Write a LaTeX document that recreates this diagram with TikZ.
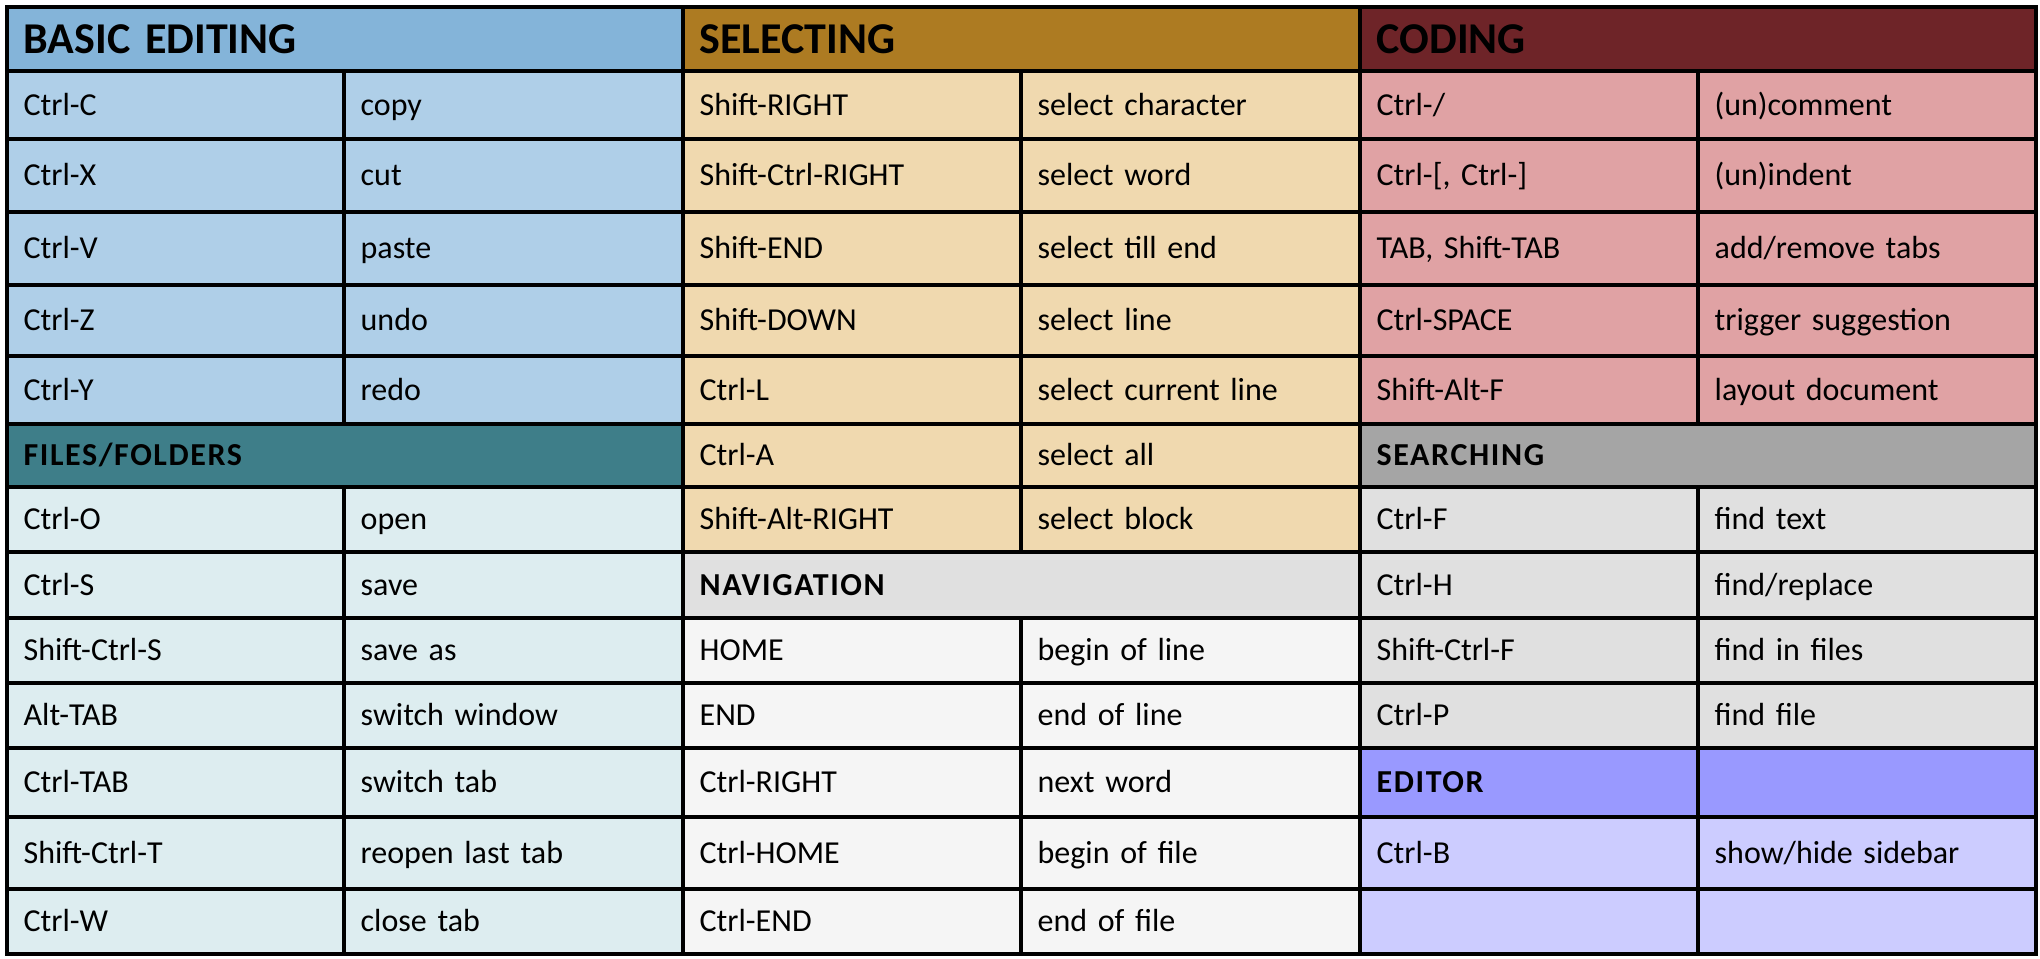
\documentclass[tikz,border=0pt]{standalone}
\usepackage{fontspec}
\setmainfont{Carlito}
\newfontfamily\subfont[LetterSpace=5]{Carlito}
\definecolor{basichead}{HTML}{84B4D9}
\definecolor{basicbody}{HTML}{AFCFE8}
\definecolor{selhead}{HTML}{AD7B22}
\definecolor{selbody}{HTML}{F0D9AF}
\definecolor{codehead}{HTML}{6E2428}
\definecolor{codebody}{HTML}{E0A2A4}
\definecolor{filehead}{HTML}{3E7E89}
\definecolor{filebody}{HTML}{DDEDF0}
\definecolor{navhead}{HTML}{E0E0E0}
\definecolor{navbody}{HTML}{F5F5F5}
\definecolor{srchhead}{HTML}{A5A5A5}
\definecolor{srchbody}{HTML}{E0E0E0}
\definecolor{edhead}{HTML}{9999FF}
\definecolor{edbody}{HTML}{CCCCFF}
\tikzset{
  cell/.style={draw=black,line width=3pt,anchor=north west,inner xsep=12.5pt,inner ysep=0pt,
    align=left,text height=15.5pt,text depth=0pt,font=\fontsize{24}{28}\selectfont},
  bighead/.style={cell,text height=21.3pt,font=\fontsize{33}{38}\selectfont\bfseries},
  subhead/.style={cell,font=\subfont\fontsize{24}{28}\selectfont\bfseries},
}
% one cell: name, column, span, row, style, text
\newcommand{\kcell}[6]{%
  \pgfmathsetmacro{\xa}{{5,342,681,1019,1358,1696,2034}[#2]}%
  \pgfmathsetmacro{\xb}{{5,342,681,1019,1358,1696,2034}[#2+#3]}%
  \pgfmathsetmacro{\ya}{{5,69,137,210,283,354,422,485,550,616,681,746,815,887,952}[#4]}%
  \pgfmathsetmacro{\yb}{{5,69,137,210,283,354,422,485,550,616,681,746,815,887,952}[#4+1]}%
  \pgfmathsetmacro{\cw}{(\xb-\xa)*0.75}%
  \pgfmathsetmacro{\ch}{(\yb-\ya)*0.75}%
  \pgfmathsetmacro{\tw}{\cw-25}%
  \node[#5,minimum width=\cw pt,minimum height=\ch pt,text width=\tw pt] (#1) at (\xa,\ya) {#6};}
% key and meaning: name, column, row, fill, key, meaning
\newcommand{\krow}[6]{%
  \kcell{#1-k}{#2}{1}{#3}{cell,fill=#4}{#5}%
  \kcell{#1-d}{#2+1}{1}{#3}{cell,fill=#4}{#6}}
\begin{document}
\begin{tikzpicture}[x=0.75pt,y=-0.75pt]
\useasboundingbox (0,0) rectangle (2040,958);
% basic editing
\kcell{basic}{0}{2}{0}{bighead,fill=basichead}{BASIC EDITING}
\krow{be1}{0}{1}{basicbody}{Ctrl-C}{copy}
\krow{be2}{0}{2}{basicbody}{Ctrl-X}{cut}
\krow{be3}{0}{3}{basicbody}{Ctrl-V}{paste}
\krow{be4}{0}{4}{basicbody}{Ctrl-Z}{undo}
\krow{be5}{0}{5}{basicbody}{Ctrl-Y}{redo}
% files/folders
\kcell{files}{0}{2}{6}{subhead,fill=filehead}{FILES/FOLDERS}
\krow{ff1}{0}{7}{filebody}{Ctrl-O}{open}
\krow{ff2}{0}{8}{filebody}{Ctrl-S}{save}
\krow{ff3}{0}{9}{filebody}{Shift-Ctrl-S}{save as}
\krow{ff4}{0}{10}{filebody}{Alt-TAB}{switch window}
\krow{ff5}{0}{11}{filebody}{Ctrl-TAB}{switch tab}
\krow{ff6}{0}{12}{filebody}{Shift-Ctrl-T}{reopen last tab}
\krow{ff7}{0}{13}{filebody}{Ctrl-W}{close tab}
% selecting
\kcell{select}{2}{2}{0}{bighead,fill=selhead}{SELECTING}
\krow{se1}{2}{1}{selbody}{Shift-RIGHT}{select character}
\krow{se2}{2}{2}{selbody}{Shift-Ctrl-RIGHT}{select word}
\krow{se3}{2}{3}{selbody}{Shift-END}{select till end}
\krow{se4}{2}{4}{selbody}{Shift-DOWN}{select line}
\krow{se5}{2}{5}{selbody}{Ctrl-L}{select current line}
\krow{se6}{2}{6}{selbody}{Ctrl-A}{select all}
\krow{se7}{2}{7}{selbody}{Shift-Alt-RIGHT}{select block}
% navigation
\kcell{navi}{2}{2}{8}{subhead,fill=navhead}{NAVIGATION}
\krow{na1}{2}{9}{navbody}{HOME}{begin of line}
\krow{na2}{2}{10}{navbody}{END}{end of line}
\krow{na3}{2}{11}{navbody}{Ctrl-RIGHT}{next word}
\krow{na4}{2}{12}{navbody}{Ctrl-HOME}{begin of file}
\krow{na5}{2}{13}{navbody}{Ctrl-END}{end of file}
% coding
\kcell{coding}{4}{2}{0}{bighead,fill=codehead}{CODING}
\krow{co1}{4}{1}{codebody}{Ctrl-/}{(un)comment}
\krow{co2}{4}{2}{codebody}{Ctrl-[, Ctrl-]}{(un)indent}
\krow{co3}{4}{3}{codebody}{TAB, Shift-TAB}{add/remove tabs}
\krow{co4}{4}{4}{codebody}{Ctrl-SPACE}{trigger suggestion}
\krow{co5}{4}{5}{codebody}{Shift-Alt-F}{layout document}
% searching
\kcell{search}{4}{2}{6}{subhead,fill=srchhead}{SEARCHING}
\krow{sr1}{4}{7}{srchbody}{Ctrl-F}{find text}
\krow{sr2}{4}{8}{srchbody}{Ctrl-H}{find/replace}
\krow{sr3}{4}{9}{srchbody}{Shift-Ctrl-F}{find in files}
\krow{sr4}{4}{10}{srchbody}{Ctrl-P}{find file}
% editor
\kcell{editor}{4}{1}{11}{subhead,fill=edhead}{EDITOR}
\kcell{editor-d}{5}{1}{11}{subhead,fill=edhead}{}
\krow{ed1}{4}{12}{edbody}{Ctrl-B}{show/hide sidebar}
\krow{ed2}{4}{13}{edbody}{}{}
\end{tikzpicture}
\end{document}
